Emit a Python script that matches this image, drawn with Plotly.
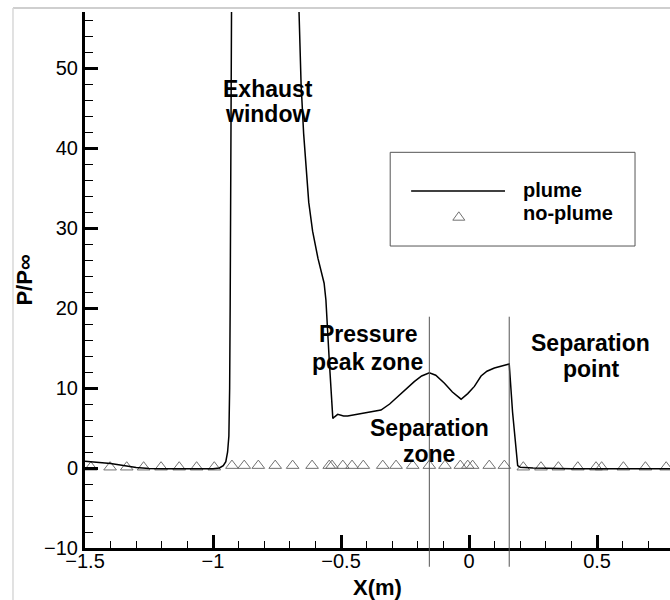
import plotly.graph_objects as go

# Wall pressure ratio along the body, jet plume on
plume_x = [-1.5, -1.45, -1.40, -1.35, -1.30, -1.25, -1.20, -1.10, -1.00, -0.975,
           -0.96, -0.95, -0.943, -0.938, -0.935, -0.933, -0.931, -0.929, -0.927,
           -0.90, -0.80, -0.70, -0.667,
           -0.664, -0.656, -0.646, -0.637, -0.626, -0.611, -0.59, -0.566, -0.559,
           -0.546, -0.532, -0.525, -0.513, -0.49, -0.474, -0.42, -0.344, -0.31,
           -0.279, -0.245, -0.214, -0.185, -0.155, -0.13, -0.096, -0.065, -0.031,
           -0.005, 0.021, 0.047, 0.07, 0.099, 0.13, 0.157, 0.17, 0.19, 0.20,
           0.25, 0.40, 0.60, 0.785]
plume_y = [0.85, 0.7, 0.55, 0.3, 0.05, -0.05, -0.1, -0.1, -0.1, 0.0,
           0.3, 0.8, 2.0, 4.0, 10.0, 20.0, 34.0, 45.0, 62.0,
           80.0, 85.0, 80.0, 62.0,
           57.0, 48.0, 41.8, 37.6, 33.2, 29.6, 26.2, 23.1, 21.0,
           13.5, 6.2, 6.4, 6.7, 6.5, 6.5, 6.8, 7.25, 8.0,
           8.9, 9.9, 10.8, 11.5, 11.9, 11.6, 10.6, 9.5, 8.6,
           9.3, 10.2, 11.5, 12.1, 12.5, 12.8, 13.0, 7.0, 0.3, 0.1,
           0.0, -0.1, -0.1, -0.1]

# Wall pressure ratio without plume
noplume_x = [-1.477, -1.402, -1.337, -1.271, -1.203, -1.132, -1.064, -0.995,
             -0.926, -0.878, -0.823, -0.757, -0.689, -0.613, -0.546, -0.535,
             -0.493, -0.457, -0.413, -0.337, -0.285, -0.220, -0.155, -0.094,
             -0.034, -0.005, 0.014, 0.079, 0.138, 0.212, 0.281, 0.349, 0.425,
             0.496, 0.518, 0.603, 0.689, 0.770]
noplume_y = [0.1, 0.1, 0.1, 0.1, 0.1, 0.1, 0.1, 0.1,
             0.3, 0.3, 0.3, 0.3, 0.3, 0.3, 0.3, 0.3,
             0.3, 0.3, 0.3, 0.3, 0.3, 0.3, 0.3, 0.3,
             0.3, 0.3, 0.3, 0.3, 0.3, 0.1, 0.1, 0.1, 0.1,
             0.1, 0.1, 0.1, 0.1, 0.1]

# Zone boundaries
zone_bounds = [-0.155, 0.157]

# Zone labels: (text, x, y)
zone_labels = [
    ("Exhaust", -0.786, 47.4), ("window", -0.789, 44.2),
    ("Pressure", -0.395, 16.7), ("peak zone", -0.396, 13.25),
    ("Separation", -0.153, 5.0), ("zone", -0.155, 1.7),
    ("Separation", 0.475, 15.6), ("point", 0.477, 12.4),
]

FONT = "Liberation Sans, Arial, Helvetica, sans-serif"

fig = go.Figure()
fig.add_trace(go.Scatter(
    x=noplume_x, y=noplume_y, mode="markers", name="no-plume",
    marker=dict(symbol="triangle-up-open", size=11, color="#707070",
                line=dict(width=1, color="#707070")),
    showlegend=False, cliponaxis=False))
fig.add_trace(go.Scatter(
    x=plume_x, y=plume_y, mode="lines", name="plume",
    line=dict(color="black", width=1.5), showlegend=False))

shapes = []
for xb in zone_bounds:
    shapes.append(dict(type="line", xref="x", yref="paper", x0=xb, x1=xb,
                       y0=-0.035, y1=0.4315, line=dict(color="#555555", width=1)))

# Legend box drawn by hand
shapes.append(dict(type="rect", xref="paper", yref="paper",
                   x0=0.5217, x1=0.9402, y0=0.5634, y1=0.7382,
                   line=dict(color="#555555", width=1), fillcolor="white", layer="below"))
shapes.append(dict(type="line", xref="paper", yref="paper",
                   x0=0.5575, x1=0.718, y0=0.666, y1=0.666,
                   line=dict(color="black", width=1.5)))
tx, ty, tw, th = 0.639, 0.6194, 0.0103, 0.0078
shapes.append(dict(type="path", xref="paper", yref="paper",
                   path=f"M{tx - tw},{ty - th} L{tx + tw},{ty - th} L{tx},{ty + th} Z",
                   line=dict(color="#707070", width=1)))

# Frame around the figure
shapes.append(dict(type="line", xref="paper", yref="paper", x0=-0.1231, x1=1.0,
                   y0=1.0075, y1=1.0075, line=dict(color="#a0a0a0", width=1.2)))
shapes.append(dict(type="line", xref="paper", yref="paper", x0=-0.1231, x1=-0.1231,
                   y0=1.0075, y1=-0.1, line=dict(color="#d8d8d8", width=1.5)))

annotations = []
for text, ax_, ay_ in zone_labels:
    annotations.append(dict(text=f"<b>{text}</b>", x=ax_, y=ay_, xref="x", yref="y",
                            showarrow=False, xanchor="center", yanchor="middle",
                            font=dict(family=FONT, size=23, color="black")))
annotations.append(dict(text="<b>plume</b>", x=0.745, y=0.667, xref="paper", yref="paper",
                        showarrow=False, xanchor="left", yanchor="middle",
                        font=dict(family=FONT, size=20, color="black")))
annotations.append(dict(text="<b>no-plume</b>", x=0.745, y=0.625, xref="paper", yref="paper",
                        showarrow=False, xanchor="left", yanchor="middle",
                        font=dict(family=FONT, size=20, color="black")))

fig.update_layout(
    width=670, height=600,
    margin=dict(l=85, r=0, t=12, b=52),
    paper_bgcolor="white", plot_bgcolor="white",
    font=dict(family=FONT, size=20, color="black"),
    shapes=shapes, annotations=annotations, showlegend=False,
)
fig.update_xaxes(
    range=[-1.5, 0.785], tick0=-1.5, dtick=0.5, ticks="inside", ticklen=13,
    tickwidth=2.5, tickcolor="black", showline=True, linewidth=3, linecolor="black",
    showgrid=False, zeroline=False, tickfont=dict(size=20), ticklabelstandoff=-7,
    minor=dict(dtick=0.1, ticks="inside", ticklen=7, tickwidth=1.2, tickcolor="black",
               showgrid=False),
    title=dict(text="<b>X(m)</b>", font=dict(size=22), standoff=9),
)
fig.update_yaxes(
    range=[-10, 57], tick0=-10, dtick=10, ticks="inside", ticklen=13,
    tickwidth=2.5, tickcolor="black", showline=True, linewidth=3, linecolor="black",
    showgrid=False, zeroline=False, tickfont=dict(size=20),
    minor=dict(dtick=2, ticks="inside", ticklen=8, tickwidth=1.2, tickcolor="black",
               showgrid=False),
    title=dict(text="<b>P/P∞</b>", font=dict(size=22), standoff=6),
)

fig.write_html("out.html")
